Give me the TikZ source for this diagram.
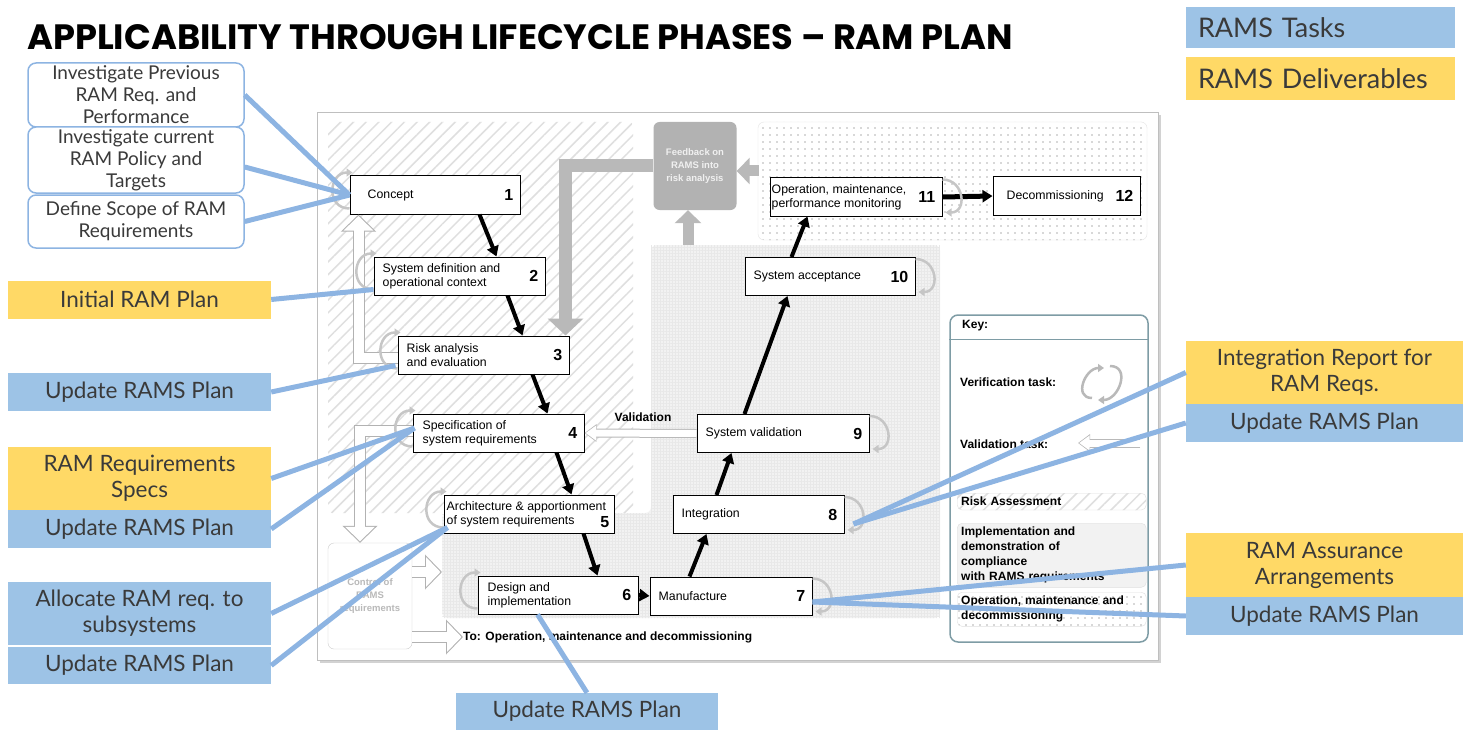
\documentclass[tikz,border=0pt]{standalone}
\usepackage{fontspec}
\setmainfont{Liberation Sans}
\newfontfamily\boxfont{Lato}
\newfontfamily\titlefont{Poppins}
\usetikzlibrary{arrows.meta,calc,patterns.meta,positioning}
\definecolor{taskblue}{HTML}{9DC3E6}
\definecolor{delivyellow}{HTML}{FFD966}
\definecolor{linkblue}{HTML}{8DB4E2}
\definecolor{boxtext}{HTML}{3A3A3A}
\definecolor{keyframe}{HTML}{7E9CA5}

\begin{document}
\begin{tikzpicture}[x=1pt,y=-1pt,
   stage/.style={draw=black,line width=1pt,fill=white,minimum height=38,inner sep=0pt},
   stagetxt/.style={anchor=west,align=left,inner sep=0pt,font=\fontsize{12.3}{14}\selectfont},
   stagenum/.style={anchor=east,inner sep=0pt,font=\fontsize{16}{16}\selectfont\bfseries},
   flow/.style={draw=black,line width=4pt,-{Triangle[length=10pt,width=12pt]}},
   verif/.style={draw=gray!45,line width=2.5pt,-{Triangle[length=6pt,width=8pt]}},
   hollow/.style={draw=white,line width=10pt,shorten >=1.5pt,-{Triangle[length=14.5pt,width=29pt]},
      preaction={draw=gray!60,line width=12pt,shorten >=0pt,-{Triangle[length=17pt,width=34pt]}}},
   smallhollow/.style={draw=white,line width=7pt,shorten >=1.2pt,-{Triangle[length=10.5pt,width=14.5pt]},
      preaction={draw=gray!55,line width=9pt,shorten >=0pt,-{Triangle[length=12pt,width=17pt]}}},
   feed/.style={draw=gray!55,line width=13pt,-{Triangle[length=17pt,width=35pt]}},
   feedsmall/.style={draw=gray!55,line width=11pt,-{Triangle[length=13pt,width=26pt]}},
   link/.style={draw=linkblue,line width=5pt},
   task/.style={fill=taskblue,inner sep=0pt,minimum width=263,minimum height=38,align=center,
      text=boxtext,font=\boxfont\fontsize{22.5}{26}\selectfont},
   deliv/.style={task,fill=delivyellow},
   prework/.style={draw=linkblue,line width=1.5pt,rounded corners=8pt,fill=white,inner sep=0pt,
      minimum width=216,align=center,text=boxtext,font=\boxfont\fontsize{19}{22}\selectfont},
   legend/.style={inner xsep=12pt,inner ysep=0pt,text width=245pt,align=left,text=boxtext,
      font=\boxfont\fontsize{27}{30}\selectfont},
   keytxt/.style={anchor=west,inner sep=0pt,align=left,font=\fontsize{12}{15}\selectfont\bfseries},
   keyarea/.style={draw=gray!25,rounded corners=5pt,text width=181pt,inner sep=4pt,align=left,
      font=\fontsize{12}{15}\selectfont\bfseries}]
\useasboundingbox (0,0) rectangle (1463,730);

% title and legend
\node[anchor=base west,inner sep=0pt,font=\titlefont\bfseries\fontsize{35.2}{35}\selectfont] (title) at (27,50)
   {APPLICABILITY THROUGH LIFECYCLE PHASES – RAM PLAN};
\node[legend,fill=taskblue,minimum height=41] (legtask) at (1320.5,27.5) {RAMS Tasks};
\node[legend,fill=delivyellow,minimum height=43] (legdeliv) at (1320.5,78.5) {RAMS Deliverables};

% picture frame
\fill[gray!35] (320,115) rectangle (1161,663);
\draw[gray!50,fill=white] (317,112) rectangle (1158,660);

% phase areas
\fill[pattern={Lines[angle=45,distance=9pt,line width=1.5pt]},pattern color=gray!25,rounded corners=4pt]
   (328,122) rectangle (633,513);
\fill[gray!10,rounded corners=6pt] (651,245) -- (940,245) -- (940,618) -- (442,618) -- (442,513) -- (651,513) -- cycle;
\fill[pattern={Hatch[angle=0,distance=3pt,line width=.3pt]},pattern color=gray!18]
   (651,245) -- (940,245) -- (940,618) -- (442,618) -- (442,513) -- (651,513) -- cycle;
\draw[gray!20,pattern={Dots[distance=7pt,radius=.9pt]},pattern color=gray!60,rounded corners=6pt]
   (758,122) rectangle (1147,240);

% feedback
\node[fill=gray!60,rounded corners=6pt,minimum width=83,minimum height=88,inner sep=0pt,align=center,
   text=gray!12,font=\fontsize{9.5}{13}\selectfont\bfseries] (fb) at (695,166) {Feedback on\\RAMS into\\risk analysis};

% stages
\foreach \i/\cx/\cy/\w/\pad/\txt in {1/435/195/170/18/Concept,
   2/459.5/276/171/9/{System definition and\\operational context},
   3/483.5/355/171/9/{Risk analysis\\and evaluation},
   4/498.5/433/171/10/{Specification of\\system requirements},
   5/529/514/170/3/{Architecture \& apportionment\\of system requirements},
   6/558/595/160/10/{Design and\\implementation},
   7/731/596/162/9/Manufacture,
   8/758.5/514.5/171/9/Integration,
   9/783/433.5/172/9/System validation,
   10/830/276.5/170/9/System acceptance,
   11/856/197/172/2/{Operation, maintenance,\\performance monitoring},
   12/1066.5/196/147/14/Decommissioning}
{
   \node[stage,minimum width=\w] (n\i) at (\cx,\cy) {};
   \node[stagetxt] (t\i) at ($(n\i.west)+(\pad,0)$) {\txt};
}
\foreach \i in {1,2,3,4,6,7,8,9,10,11,12}
   \node[stagenum] (k\i) at ($(n\i.east)+(-7,0)$) {\i};
\node[stagenum] (k5) at ($(n5.east)+(-5,8)$) {5};

% feedback arrows
\draw[feed] (fb.west) -| ($(n3.north east)+(-4,0)$);
\draw[feedsmall] ($(fb.south)+(-7,35)$) -- ($(fb.south)+(-7,0)$);
\draw[feedsmall] ($(fb.east)+(22,5)$) -- ($(fb.east)+(0,5)$);

% control of requirements
\node[draw=gray!40,rounded corners=6pt,minimum width=84,minimum height=106,inner sep=0pt,align=center,
   text=gray!55,font=\fontsize{9.5}{13}\selectfont\bfseries] (ctrl) at (370,596) {Control of\\RAMS\\requirements};
\node[anchor=west,inner sep=0pt,font=\fontsize{12}{14}\selectfont\bfseries] (tonext) at (463,637)
   {To: Operation, maintenance and decommissioning};
\coordinate (implin) at (442,572);
\draw[hollow] (ctrl.east |- implin) -- (implin);
\draw[hollow] (ctrl.east |- tonext) -- (tonext.west);
\draw[hollow] ($(n3.west)+(0,3)$) -| ($(n1.south west)+(9,0)$);
\draw[hollow] ($(n4.west)+(0,-2)$) -| ($(ctrl.north)+(-10,0)$);

% main flow
\foreach \a/\b/\da/\db in {1/2/130/123,2/3/134/125,3/4/135/135,4/5/144/128,5/6/140/120}
   \draw[flow] ($(n\a.south west)+(\da,0)$) -- ($(n\b.north west)+(\db,0)$);
\foreach \a/\b/\da/\db in {7/8/40/34,8/9/44/35,9/10/48/43,10/11/47/38}
   \draw[flow] ($(n\a.north west)+(\da,0)$) -- ($(n\b.south west)+(\db,0)$);
\draw[flow] (n6.east) -- (n7.west);
\draw[flow,line width=5pt] (n11.east) -- (n12.west);

% validation
\draw[smallhollow] (n9.west) -- (n4.east);
\node[font=\fontsize{12}{14}\selectfont\bfseries,inner sep=0pt] (vallbl) at (643,417) {Validation};

% verification loops
\foreach \i in {1,...,6}
   \draw[verif] ($(n\i.south west)+(0,-6)$) to[out=180,in=180,looseness=1.7] ($(n\i.north west)+(3,-3)$);
\foreach \i in {7,...,11}
   \draw[verif] ($(n\i.north east)+(0,2)$) to[out=0,in=0,looseness=1.7] ($(n\i.south east)+(3,-4)$);

% key
\node[draw=keyframe,line width=1.5pt,rounded corners=8pt,minimum width=198,minimum height=327,inner sep=0pt] (key) at (1049,478.5) {};
\draw[keyframe,line width=1.5pt] ($(key.north west)+(0,25)$) -- ($(key.north east)+(0,25)$);
\node[keytxt] (keyhead) at (962,326) {Key:};
\node[keytxt] (kver) at (960,382) {Verification task:};
\node[keytxt] (kval) at (960,444) {Validation task:};
\draw[verif,draw=gray!55] (1092,398) to[out=180,in=180,looseness=1.5] (1104,368);
\draw[verif,draw=gray!55] (1110,366) to[out=0,in=0,looseness=1.5] (1098,400);
\coordinate (kvalend) at (1078,443);
\draw[smallhollow] (1140,443) -- (kvalend);
\node[keyarea,anchor=north west,pattern={Lines[angle=45,distance=9pt,line width=1.5pt]},pattern color=gray!25]
   (krisk) at (957,493) {Risk Assessment};
\node[keyarea,anchor=north west,fill=gray!10] (kimpl) at (957,523)
   {Implementation and\\demonstration of\\compliance\\with RAMS requirements};
\node[keyarea,anchor=north west,pattern={Dots[distance=7pt,radius=.9pt]},pattern color=gray!60] (koper) at (957,592)
   {Operation, maintenance and\\decommissioning};

% RAM tasks and deliverables
\node[prework,minimum height=64] (prevreq) at (136,95) {Investigate Previous\\RAM Req. and\\Performance};
\node[prework,minimum height=66] (curpol) at (136,160) {Investigate current\\RAM Policy and\\Targets};
\node[prework,minimum height=53] (scope) at (136,221.5) {Define Scope of RAM\\Requirements};
\node[deliv] (initplan) at (139.5,299.5) {Initial RAM Plan};
\node[task] (upd3) at (139.5,392) {Update RAMS Plan};
\node[deliv,minimum height=63] (reqspec) at (139.5,478.5) {RAM Requirements\\Specs};
\node[task] (upd4) at (139.5,529) {Update RAMS Plan};
\node[task,minimum height=63] (alloc) at (139.5,613.5) {Allocate RAM req. to\\subsystems};
\node[task,minimum height=37] (upd5) at (139.5,665.5) {Update RAMS Plan};
\node[task,minimum width=262,minimum height=37] (upd6) at (587,711.5) {Update RAMS Plan};
\node[deliv,minimum width=277,minimum height=63] (intrep) at (1324.5,372.5) {Integration Report for\\RAM Reqs.};
\node[task,minimum width=277] (upd8) at (1324.5,423) {Update RAMS Plan};
\node[deliv,minimum width=277,minimum height=64] (assur) at (1324.5,565) {RAM Assurance\\Arrangements};
\node[task,minimum width=277] (upd7) at (1324.5,616) {Update RAMS Plan};

% links
\draw[link] (prevreq.east) -- (n1.west);
\draw[link] ($(curpol.east)+(0,7)$) -- (n1.west);
\draw[link] (scope.east) -- (n1.west);
\draw[link] (initplan.east) -- ($(n2.south west)+(0,-6)$);
\draw[link] (upd3.east) -- ($(n3.south west)+(-2,-9)$);
\draw[link] (reqspec.east) -- ($(n4.west)+(2,-5)$);
\draw[link] (upd4.east) -- ($(n4.west)+(2,-5)$);
\draw[link] (alloc.east) -- ($(n5.south west)+(4,-6)$);
\draw[link] (upd5.east) -- ($(n5.south west)+(4,-6)$);
\draw[link] (upd6.north) -- ($(n6.south west)+(60,0)$);
\draw[link] (intrep.west) -- ($(n8.south east)+(9,-10)$);
\draw[link] (upd8.west) -- ($(n8.south east)+(9,-10)$);
\draw[link] (assur.west) -- ($(n7.east)+(0,6)$);
\draw[link] (upd7.west) -- ($(n7.east)+(0,6)$);
\end{tikzpicture}
\end{document}
